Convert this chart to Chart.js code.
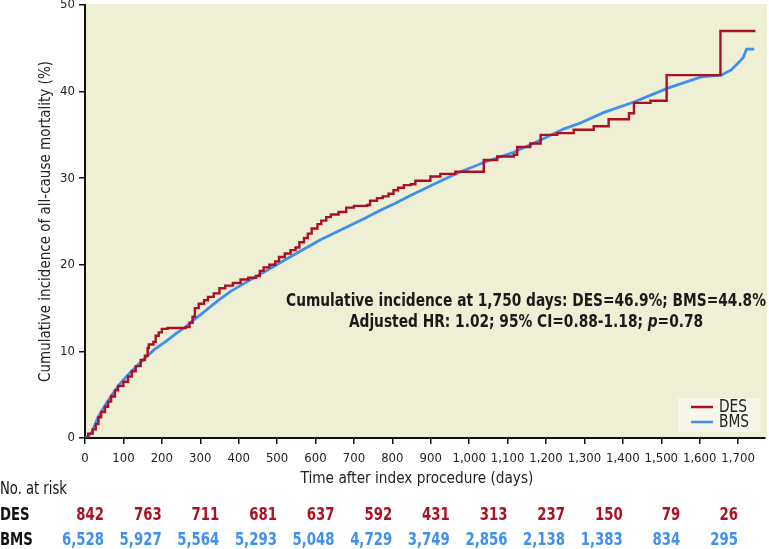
<!DOCTYPE html>
<html>
<head>
<meta charset="utf-8">
<script src="https://cdn.jsdelivr.net/npm/chart.js@4.4.0/dist/chart.umd.min.js"></script>
<style>
  html, body { margin: 0; padding: 0; background: #fff; }
  #wrap { width: 769px; height: 549px; }
</style>
</head>
<body>
<div id="wrap"><canvas id="km" width="769" height="549"></canvas></div>
<script>
// Kaplan-Meier style cumulative incidence
const desDays = [0, 8, 20, 28, 35, 42, 52, 60, 68, 78, 86, 100, 112, 122, 132, 145, 156, 163, 166, 178, 184, 192, 200, 215, 262, 272, 280, 286, 296, 310, 320, 335, 350, 365, 385, 405, 425, 445, 455, 465, 480, 495, 505, 520, 535, 548, 558, 570, 580, 590, 605, 615, 628, 640, 660, 680, 700, 735, 742, 760, 775, 790, 803, 815, 830, 848, 860, 899, 925, 964, 1038, 1073, 1116, 1125, 1159, 1186, 1229, 1272, 1324, 1363, 1416, 1429, 1472, 1514, 1654, 1745];
const desPct  = [0, 0.5, 1.0, 1.6, 2.4, 3.0, 3.6, 4.2, 4.8, 5.5, 6.0, 6.5, 7.1, 7.7, 8.3, 9.0, 9.5, 10.4, 10.8, 11.1, 11.8, 12.2, 12.6, 12.7, 12.8, 13.3, 14.0, 15.0, 15.5, 15.9, 16.3, 16.7, 17.3, 17.6, 17.9, 18.3, 18.5, 18.7, 19.3, 19.7, 20.0, 20.4, 20.9, 21.3, 21.7, 22.0, 22.6, 23.1, 23.6, 24.2, 24.7, 25.1, 25.5, 25.8, 26.1, 26.6, 26.8, 26.9, 27.4, 27.7, 27.9, 28.2, 28.6, 28.9, 29.2, 29.3, 29.7, 30.2, 30.5, 30.75, 32.1, 32.5, 32.7, 33.6, 34.0, 35.0, 35.2, 35.6, 36.0, 36.8, 37.5, 38.7, 38.95, 41.9, 47.0, 47.0];

const bmsDays = [0, 10, 18, 34, 50, 70, 90, 112, 135, 156, 180, 209, 235, 261, 285, 305, 347, 378, 420, 464, 510, 553, 613, 683, 730, 769, 808, 847, 908, 970, 1043, 1116, 1186, 1247, 1291, 1351, 1429, 1517, 1604, 1656, 1682, 1700, 1713, 1722, 1742];
const bmsPct  = [0, 0.3, 0.7, 2.4, 3.6, 5.0, 6.2, 7.3, 8.3, 9.2, 10.2, 11.1, 12.0, 12.8, 13.7, 14.4, 15.9, 16.9, 18.0, 19.1, 20.3, 21.4, 22.9, 24.4, 25.4, 26.3, 27.1, 28.0, 29.3, 30.6, 31.9, 33.0, 34.4, 35.7, 36.4, 37.6, 38.8, 40.4, 41.7, 41.9, 42.5, 43.3, 43.9, 44.9, 44.9];

const xTickValues = [0, 100, 200, 300, 400, 500, 600, 700, 800, 900, 1000, 1100, 1200, 1300, 1400, 1500, 1600, 1700];

// number at risk table
const riskDays  = [0, 150, 300, 450, 600, 750, 900, 1050, 1200, 1350, 1500, 1650];
const desAtRisk = ['842', '763', '711', '681', '637', '592', '431', '313', '237', '150', '79', '26'];
const bmsAtRisk = ['6,528', '5,927', '5,564', '5,293', '5,048', '4,729', '3,749', '2,856', '2,138', '1,383', '834', '295'];

const seriesNames = ['DES', 'BMS'];
const noteLines = [
  'Cumulative incidence at 1,750 days: DES=46.9%; BMS=44.8%',
  'Adjusted HR: 1.02; 95% CI=0.88-1.18; p=0.78'
];

const RED   = '#ab1120';
const BLUE  = '#3e8ff0';
const PANEL = '#efefd6';
const FAM = '"DejaVu Sans Condensed", "Liberation Sans Narrow", "Liberation Sans", sans-serif';

const toPoints = (xs, ys) => xs.map((x, i) => ({ x, y: ys[i] }));

// text squeezed horizontally to look like the condensed face of the original
function squeezed(ctx, parts, x, y, align, sx) {
  ctx.save();
  ctx.textAlign = 'left';
  ctx.textBaseline = 'middle';
  let total = 0;
  const widths = parts.map(p => { ctx.font = p.font; const w = ctx.measureText(p.text).width; total += w; return w; });
  let start = align === 'center' ? -total / 2 : align === 'right' ? -total : 0;
  ctx.translate(x, y);
  ctx.scale(sx, 1);
  parts.forEach((p, i) => {
    ctx.font = p.font;
    ctx.fillStyle = p.color;
    ctx.fillText(p.text, start, 0);
    start += widths[i];
  });
  ctx.restore();
}

const panelBg = {
  id: 'panelBg',
  beforeDraw(chart) {
    const { ctx, chartArea: a } = chart;
    ctx.save();
    ctx.fillStyle = PANEL;
    ctx.fillRect(a.left, a.top - 1, a.right - a.left + 2, a.bottom - a.top + 1);
    ctx.restore();
  }
};

const extras = {
  id: 'extras',
  afterDraw(chart) {
    const { ctx } = chart;
    const xs = chart.scales.x;
    const bold = 'bold 17px ' + FAM;

    // annotation
    squeezed(ctx, [{ text: noteLines[0], font: bold, color: '#1a1a1a' }], 526, 302, 'center', 0.9);
    const l2 = noteLines[1].split('p=');
    squeezed(ctx, [
      { text: l2[0], font: bold, color: '#1a1a1a' },
      { text: 'p', font: 'bold italic 17px ' + FAM, color: '#1a1a1a' },
      { text: '=' + l2[1], font: bold, color: '#1a1a1a' },
    ], 526, 323, 'center', 0.9);

    // legend
    ctx.save();
    ctx.fillStyle = '#f6f6ea';
    ctx.fillRect(678, 398, 82, 34);
    [RED, BLUE].forEach((c, i) => {
      const y = 407 + i * 15;
      ctx.strokeStyle = c;
      ctx.lineWidth = 2.5;
      ctx.beginPath();
      ctx.moveTo(691, y);
      ctx.lineTo(713, y);
      ctx.stroke();
      squeezed(ctx, [{ text: seriesNames[i], font: '17px ' + FAM, color: '#222' }], 719, y + 1, 'left', 0.9);
    });
    ctx.restore();

    // x axis title
    squeezed(ctx, [{ text: 'Time after index procedure (days)', font: '16px ' + FAM, color: '#222' }], 417, 479, 'center', 0.95);

    // number at risk
    squeezed(ctx, [{ text: 'No. at risk', font: '17px ' + FAM, color: '#111' }], 0, 490, 'left', 0.86);
    squeezed(ctx, [{ text: seriesNames[0], font: 'bold 18px ' + FAM, color: '#111' }], 0, 515, 'left', 0.82);
    squeezed(ctx, [{ text: seriesNames[1], font: 'bold 18px ' + FAM, color: '#111' }], 0, 540, 'left', 0.82);
    riskDays.forEach((d, i) => {
      const px = xs.getPixelForValue(d) + 19;
      squeezed(ctx, [{ text: desAtRisk[i], font: 'bold 18px ' + FAM, color: RED }], px, 515, 'right', 0.82);
      squeezed(ctx, [{ text: bmsAtRisk[i], font: 'bold 18px ' + FAM, color: BLUE }], px, 540, 'right', 0.82);
    });
  }
};

new Chart(document.getElementById('km'), {
  type: 'line',
  data: {
    datasets: [
      {
        label: seriesNames[0],
        data: toPoints(desDays, desPct),
        borderColor: RED,
        borderWidth: 2.4,
        stepped: true,
        pointRadius: 0,
        fill: false,
      },
      {
        label: seriesNames[1],
        data: toPoints(bmsDays, bmsPct),
        borderColor: BLUE,
        borderWidth: 2.8,
        tension: 0,
        pointRadius: 0,
        fill: false,
      }
    ]
  },
  options: {
    responsive: false,
    animation: false,
    events: [],
    layout: { padding: { top: 5, right: 4, left: 0, bottom: 0 } },
    plugins: {
      legend: { display: false },
      tooltip: { enabled: false },
    },
    scales: {
      x: {
        type: 'linear',
        min: 0,
        max: 1770,
        afterBuildTicks: s => { s.ticks = xTickValues.map(v => ({ value: v })); },
        afterFit: s => { s.height = 111; s.paddingLeft = 0; s.paddingRight = 0; },
        ticks: {
          color: '#222',
          padding: 7,
          maxRotation: 0,
          autoSkip: false,
          font: { family: FAM, size: 13 },
          callback: v => v.toLocaleString('en-US'),
        },
        grid: { drawOnChartArea: false, drawTicks: true, tickLength: 6, color: '#111', lineWidth: 1.5 },
        border: { display: true, color: '#111', width: 2 },
      },
      y: {
        min: 0,
        max: 50,
        afterFit: s => { s.width = 85; s.paddingTop = 0; s.paddingBottom = 0; },
        ticks: {
          stepSize: 10,
          color: '#222',
          padding: 4,
          font: { family: FAM, size: 13 },
        },
        grid: { drawOnChartArea: false, drawTicks: true, tickLength: 6, color: '#111', lineWidth: 1.5 },
        border: { display: true, color: '#111', width: 2 },
        title: {
          display: true,
          text: 'Cumulative incidence of all-cause mortality (%)',
          color: '#222',
          font: { family: FAM, size: 15 },
          padding: { top: 37, bottom: 0 },
        },
      }
    }
  },
  plugins: [panelBg, extras]
});
</script>
</body>
</html>
